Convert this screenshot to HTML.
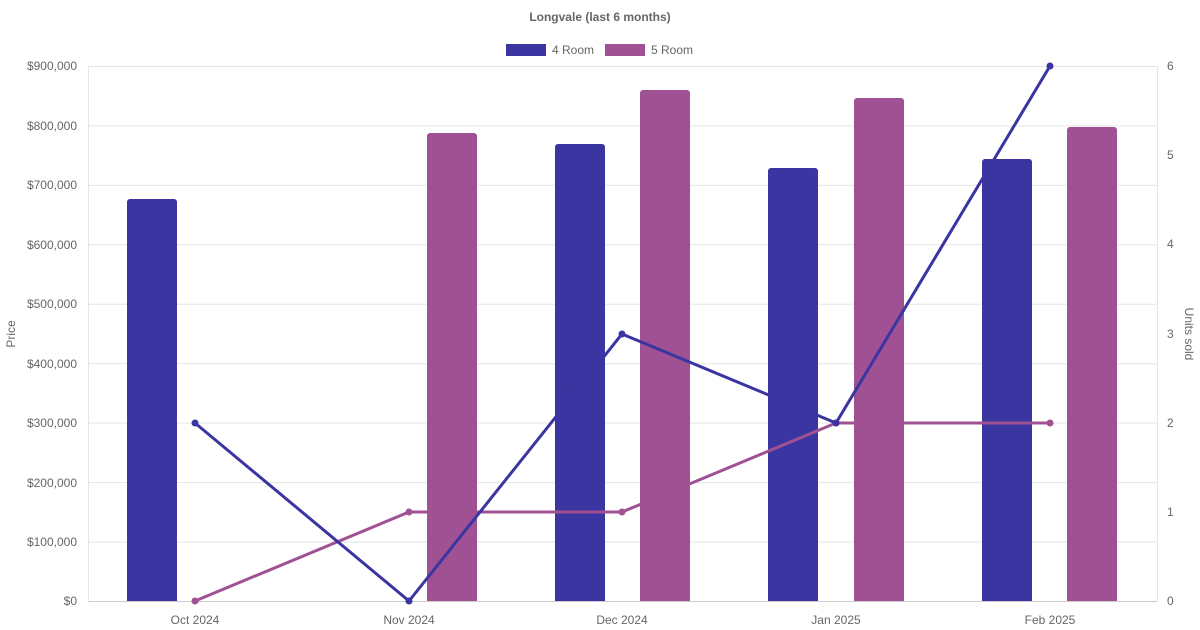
<!DOCTYPE html>
<html><head><meta charset="utf-8"><style>body{margin:0;background:#fff}svg{display:block;font-family:"Liberation Sans",sans-serif}</style></head><body>
<svg width="1200" height="630" viewBox="0 0 1200 630">
<text x="600" y="21" text-anchor="middle" font-size="12" font-weight="bold" fill="#666">Longvale (last 6 months)</text>
<rect x="506" y="44" width="40" height="12" fill="#3a35a0"/><text x="552" y="54" font-size="12" fill="#666">4 Room</text>
<rect x="605" y="44" width="40" height="12" fill="#a05194"/><text x="651" y="54" font-size="12" fill="#666">5 Room</text>
<g stroke="#e5e5e5" stroke-width="1">
<line x1="88" y1="66.5" x2="1157" y2="66.5"/><line x1="88" y1="125.9" x2="1157" y2="125.9"/><line x1="88" y1="185.4" x2="1157" y2="185.4"/><line x1="88" y1="244.8" x2="1157" y2="244.8"/><line x1="88" y1="304.3" x2="1157" y2="304.3"/><line x1="88" y1="363.7" x2="1157" y2="363.7"/><line x1="88" y1="423.1" x2="1157" y2="423.1"/><line x1="88" y1="482.6" x2="1157" y2="482.6"/><line x1="88" y1="542" x2="1157" y2="542"/>
<line x1="88.5" y1="66" x2="88.5" y2="601"/><line x1="1157.5" y1="66" x2="1157.5" y2="601"/>
</g>
<line x1="88" y1="601.5" x2="1157" y2="601.5" stroke="#ccc"/>
<g font-size="12" fill="#666" text-anchor="end">
<text x="77" y="70">$900,000</text><text x="77" y="130">$800,000</text><text x="77" y="189">$700,000</text><text x="77" y="249">$600,000</text><text x="77" y="308">$500,000</text><text x="77" y="368">$400,000</text><text x="77" y="427">$300,000</text><text x="77" y="487">$200,000</text><text x="77" y="546">$100,000</text><text x="77" y="605">$0</text>
</g>
<g font-size="12" fill="#666">
<text x="1167" y="70">6</text><text x="1167" y="159">5</text><text x="1167" y="248">4</text><text x="1167" y="338">3</text><text x="1167" y="427">2</text><text x="1167" y="516">1</text><text x="1167" y="605">0</text>
</g>
<g font-size="12" fill="#666" text-anchor="middle">
<text x="195" y="624">Oct 2024</text><text x="409" y="624">Nov 2024</text><text x="622" y="624">Dec 2024</text><text x="836" y="624">Jan 2025</text><text x="1050" y="624">Feb 2025</text>
</g>
<text transform="translate(15,334) rotate(-90)" text-anchor="middle" font-size="12" fill="#666">Price</text>
<text transform="translate(1185,334) rotate(90)" text-anchor="middle" font-size="12" fill="#666">Units sold</text>
<g fill="#3a35a0">
<rect x="127" y="199" width="50" height="402" rx="3"/><rect x="127" y="205" width="50" height="396"/>
<rect x="555" y="144" width="50" height="457" rx="3"/><rect x="555" y="150" width="50" height="451"/>
<rect x="768" y="168" width="50" height="433" rx="3"/><rect x="768" y="174" width="50" height="427"/>
<rect x="982" y="159" width="50" height="442" rx="3"/><rect x="982" y="165" width="50" height="436"/>
</g>
<g fill="#a05194">
<rect x="427" y="133" width="50" height="468" rx="3"/><rect x="427" y="139" width="50" height="462"/>
<rect x="640" y="90" width="50" height="511" rx="3"/><rect x="640" y="96" width="50" height="505"/>
<rect x="854" y="98" width="50" height="503" rx="3"/><rect x="854" y="104" width="50" height="497"/>
<rect x="1067" y="127" width="50" height="474" rx="3"/><rect x="1067" y="133" width="50" height="468"/>
</g>
<polyline points="195,601 409,512 622,512 836,423 1050,423" fill="none" stroke="#a05194" stroke-width="3"/>
<g fill="#a05194"><circle cx="195" cy="601" r="3.5"/><circle cx="409" cy="512" r="3.5"/><circle cx="622" cy="512" r="3.5"/><circle cx="836" cy="423" r="3.5"/><circle cx="1050" cy="423" r="3.5"/></g>
<polyline points="195,423 409,601 622,334 836,423 1050,66" fill="none" stroke="#3a35a0" stroke-width="3"/>
<g fill="#3a35a0"><circle cx="195" cy="423" r="3.5"/><circle cx="409" cy="601" r="3.5"/><circle cx="622" cy="334" r="3.5"/><circle cx="836" cy="423" r="3.5"/><circle cx="1050" cy="66" r="3.5"/></g>
</svg>
</body></html>
